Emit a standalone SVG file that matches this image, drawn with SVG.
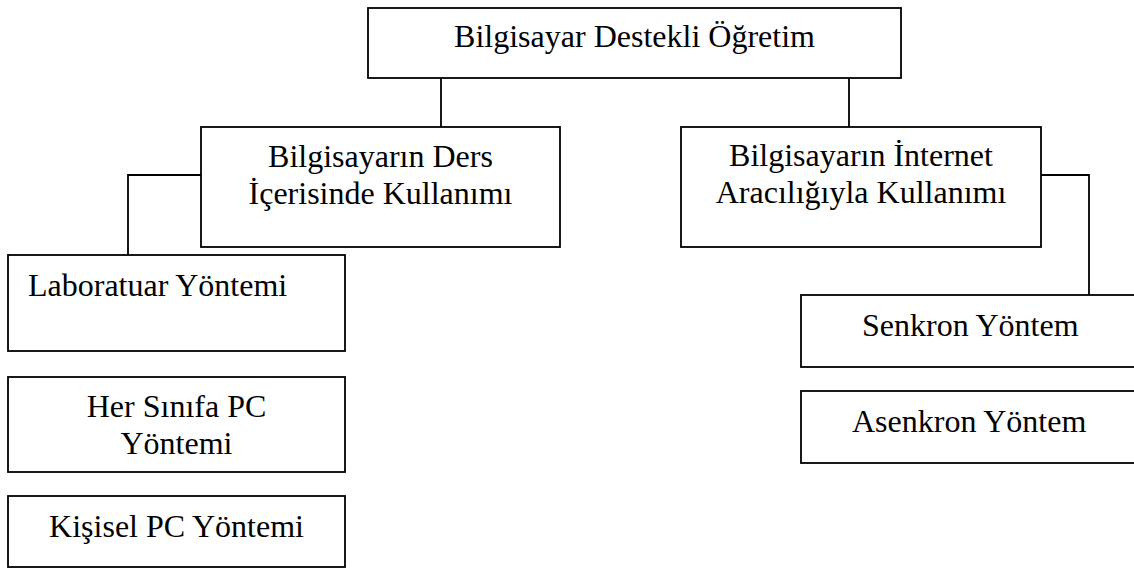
<svg xmlns="http://www.w3.org/2000/svg" width="1134" height="570" viewBox="0 0 1134 570">
  <style>
    .box { fill: #ffffff; stroke: #000000; stroke-width: 1.8; }
    .link { fill: none; stroke: #000000; stroke-width: 1.8; }
    text { font-family: "Liberation Serif", "Times New Roman", serif; font-size: 32px; fill: #000000; }
    .c { text-anchor: middle; }
  </style>
  <rect x="0" y="0" width="1134" height="570" fill="#ffffff"/>

  <!-- connectors -->
  <g id="connectors">
    <path class="link" d="M441 78 V127"/>
    <path class="link" d="M849 78 V127"/>
    <path class="link" d="M201 175 H128 V255"/>
    <path class="link" d="M1041 175 H1089 V295"/>
  </g>

  <g id="node-root">
    <rect class="box" x="368" y="8" width="533" height="70"/>
    <text class="c" x="634.5" y="47">Bilgisayar Destekli Öğretim</text>
  </g>

  <g id="node-ders">
    <rect class="box" x="201" y="127" width="359" height="120"/>
    <text class="c" x="380.5" y="167">Bilgisayarın Ders</text>
    <text class="c" x="380.5" y="204">İçerisinde Kullanımı</text>
  </g>

  <g id="node-internet">
    <rect class="box" x="681" y="127" width="360" height="120"/>
    <text class="c" x="861" y="166">Bilgisayarın İnternet</text>
    <text class="c" x="861" y="203">Aracılığıyla Kullanımı</text>
  </g>

  <g id="node-lab">
    <rect class="box" x="8" y="255" width="337" height="96"/>
    <text x="28" y="296">Laboratuar Yöntemi</text>
  </g>

  <g id="node-sinif">
    <rect class="box" x="8" y="377" width="337" height="95"/>
    <text class="c" x="176.5" y="417">Her Sınıfa PC</text>
    <text class="c" x="176.5" y="454">Yöntemi</text>
  </g>

  <g id="node-kisisel">
    <rect class="box" x="8" y="496" width="337" height="71"/>
    <text class="c" x="176.5" y="537">Kişisel PC Yöntemi</text>
  </g>

  <g id="node-senkron">
    <rect class="box" x="801" y="295" width="340" height="72"/>
    <text x="862" y="336">Senkron Yöntem</text>
  </g>

  <g id="node-asenkron">
    <rect class="box" x="801" y="391" width="340" height="72"/>
    <text x="852" y="432">Asenkron Yöntem</text>
  </g>
</svg>
